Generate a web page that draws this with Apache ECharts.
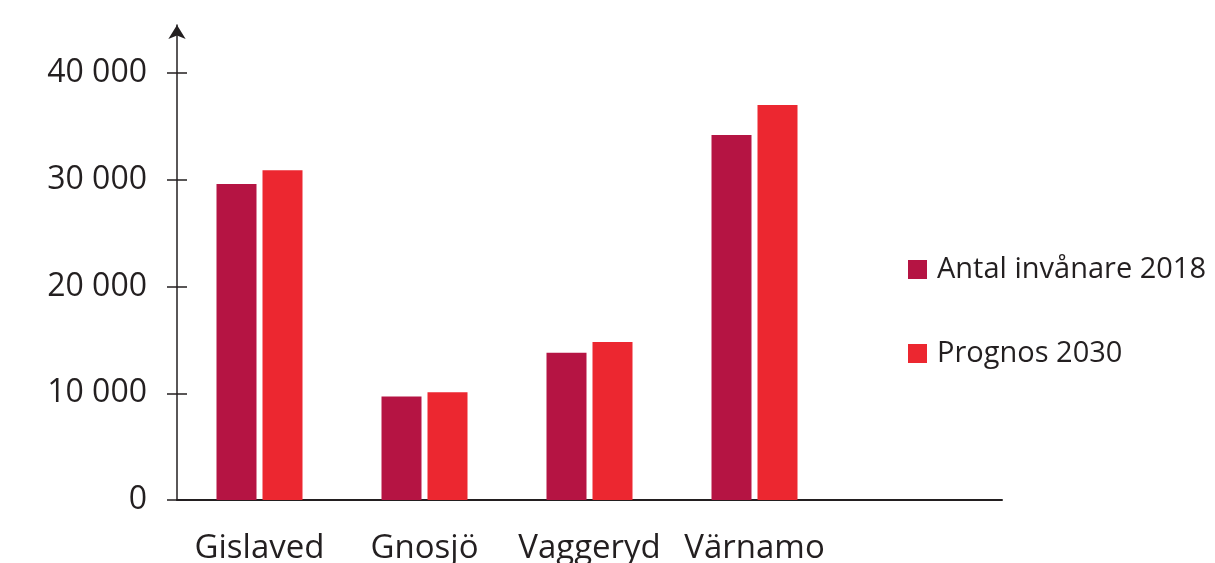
<!DOCTYPE html>
<html>
<head>
<meta charset="utf-8">
<script src="https://cdn.jsdelivr.net/npm/echarts@6/dist/echarts.min.js"></script>
<style>html,body{margin:0;padding:0;background:#fff}#c{width:1215px;height:563px}</style>
</head>
<body>
<div id="c"></div>
<script>
const categories = ['Gislaved', 'Gnosjö', 'Vaggeryd', 'Värnamo', ''];
const seriesNames = ['Antal invånare 2018', 'Prognos 2030'];
const values2018 = [29600, 9700, 13800, 34200, null];
const values2030 = [30900, 10100, 14800, 37000, null];
const yTicks = [0, 10000, 20000, 30000, 40000];

const ink = '#231f20';
const font = 'Open Sans';
const fmt = v => String(v).replace(/\B(?=(\d{3})+(?!\d))/g, ' ');

const chart = echarts.init(document.getElementById('c'));
chart.setOption({
  animation: false,
  grid: { left: 177, right: 213, top: 25, bottom: 63, containLabel: false, outerBoundsMode: 'none' },
  legend: {
    orient: 'vertical', left: 908, top: 255, padding: 0,
    itemWidth: 19, itemHeight: 19, itemGap: 55,
    icon: 'rect',
    textStyle: { fontFamily: font, fontSize: 29, color: ink, padding: [0, 0, 0, 5] },
    data: seriesNames
  },
  xAxis: {
    type: 'category', data: categories,
    axisLine: { lineStyle: { color: ink, width: 2 } },
    axisTick: { show: false },
    axisLabel: { fontFamily: font, fontSize: 33, color: ink, margin: 32, interval: 0 }
  },
  yAxis: [{
    type: 'value', min: 0, max: 44500,
    splitLine: { show: false },
    axisLine: { show: true, symbol: ['none', 'arrow'], symbolSize: [13, 14], lineStyle: { color: ink, width: 1.5 } },
    axisTick: { show: true, length: 10, customValues: yTicks, lineStyle: { color: ink, width: 1.5 } },
    axisLabel: { fontFamily: font, fontSize: 32, color: ink, margin: 30, customValues: yTicks, formatter: fmt }
  }, {
    type: 'value', min: 0, max: 44500, position: 'left', offset: 0,
    splitLine: { show: false },
    axisLine: { show: false },
    axisTick: { show: true, inside: true, length: 10, customValues: yTicks, lineStyle: { color: ink, width: 1.5 } },
    axisLabel: { show: false }
  }],
  series: [{
    name: seriesNames[0], type: 'bar', data: values2018, barWidth: 40, barGap: '15%',
    itemStyle: { color: '#b51443' }
  }, {
    name: seriesNames[1], type: 'bar', data: values2030, barWidth: 40,
    itemStyle: { color: '#ec2730' }
  }]
});
</script>
</body>
</html>
